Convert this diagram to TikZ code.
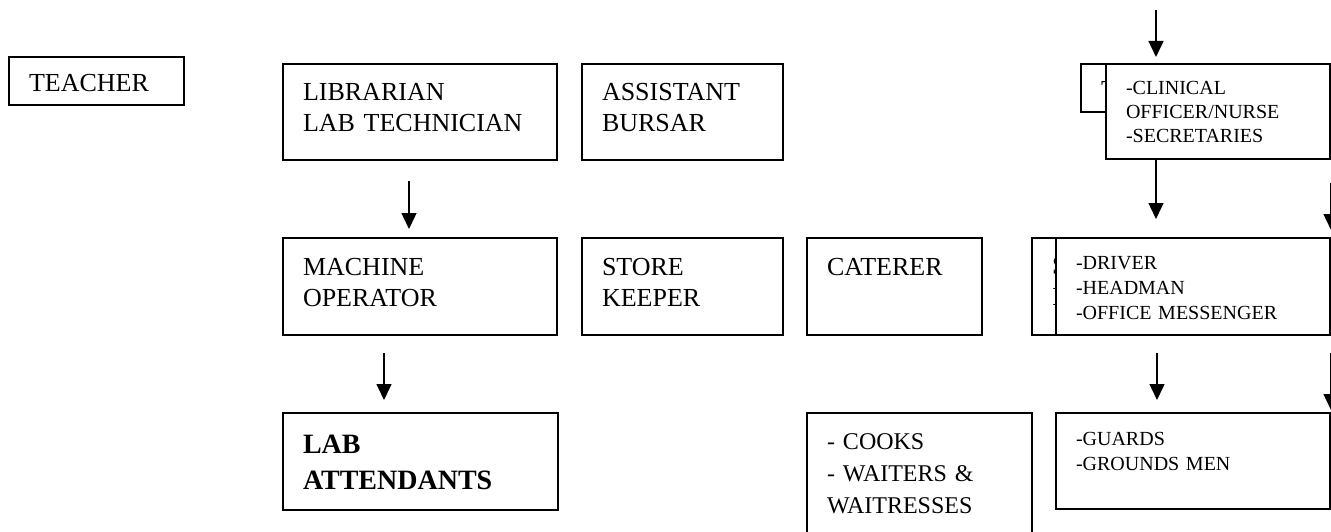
\documentclass[tikz,border=0pt]{standalone}
\usepackage{fontspec}
\setmainfont{Liberation Serif}
\usetikzlibrary{arrows.meta}

\begin{document}
\begin{tikzpicture}[x=1pt,y=-1pt,
		box/.style={draw, line width=1.9pt, fill=white, anchor=north west, outer sep=0pt,
			align=left, inner xsep=20pt, inner ysep=0pt,
			font=\fontsize{26}{31}\selectfont, text height=37pt},
		small/.style={font=\fontsize{20}{25}\selectfont, text height=31pt},
		arrow/.style={line width=1.5pt, -{Triangle[width=15pt,length=16pt]}}]
				\useasboundingbox (0,0) rectangle (1331,532);
				% first row
				\node[box, text width=135pt, text height=35pt, text depth=13pt] (teacher) at (9,57) {TEACHER};
				\node[box, text width=234pt, text depth=59pt] (librarian) at (283,64) {LIBRARIAN\\LAB TECHNICIAN};
				\node[box, text width=161pt, text depth=59pt] (bursar) at (582,64) {ASSISTANT\\BURSAR};
				\node[box, text width=110pt, text height=35pt, text depth=13pt] (typist) at (1081,64) {T};
				\node[box, small, text width=184pt, text depth=64pt, font=\fontsize{20}{24}\selectfont] (clinical) at (1106,64) {-CLINICAL\\OFFICER/NURSE\\-SECRETARIES};
				% second row
				\node[box, text width=234pt, text depth=60pt] (machine) at (283,238) {MACHINE\\OPERATOR};
				\node[box, text width=161pt, text depth=60pt] (store) at (582,238) {STORE\\KEEPER};
				\node[box, text width=135pt, text depth=60pt] (caterer) at (807,238) {CATERER};
				\node[box, text width=160pt, text height=36pt, text depth=61pt] (security) at (1032,238) {S\\I};
				\node[box, small, text width=234pt, text depth=66pt] (driver) at (1056,238) {-DRIVER\\-HEADMAN\\-OFFICE MESSENGER};
				% third row
				\node[box, text width=235pt, text height=40pt, text depth=57pt, font=\fontsize{28}{36}\selectfont\bfseries] (attendants) at (283,413) {LAB\\ATTENDANTS};
				\node[box, text width=185pt, text height=36pt, text depth=104pt, font=\fontsize{24}{32}\selectfont] (cooks) at (807,413) {- COOKS\\- WAITERS \&\\WAITRESSES};
				\node[box, small, text width=234pt, text height=32pt, text depth=64pt] (guards) at (1056,413) {-GUARDS\\-GROUNDS MEN};
				% arrows
				\coordinate (from top) at (1156,10);
				\coordinate (edge a) at (1331,183);
				\coordinate (edge b) at (1331,353);
				\draw[arrow, shorten >=7pt] (from top) -- (from top |- clinical.north);
				\draw[arrow, shorten <=21pt, shorten >=9pt] ([xshift=126pt]librarian.south west) -- ([xshift=126pt]machine.north west);
				\draw[arrow, shorten <=18pt, shorten >=13pt] ([xshift=101pt]machine.south west) -- ([xshift=101pt]attendants.north west);
				\draw[arrow, shorten >=19pt] ([xshift=50pt]clinical.south west) -- ([xshift=50pt]clinical.south west |- driver.north);
				\draw[arrow, shorten <=18pt, shorten >=13pt] ([xshift=101pt]driver.south west) -- ([xshift=101pt]guards.north west);
				\draw[arrow, shorten >=8pt] (edge a) -- (edge a |- driver.north);
				\draw[arrow, shorten >=3pt] (edge b) -- (edge b |- guards.north);
			\end{tikzpicture}
\end{document}
